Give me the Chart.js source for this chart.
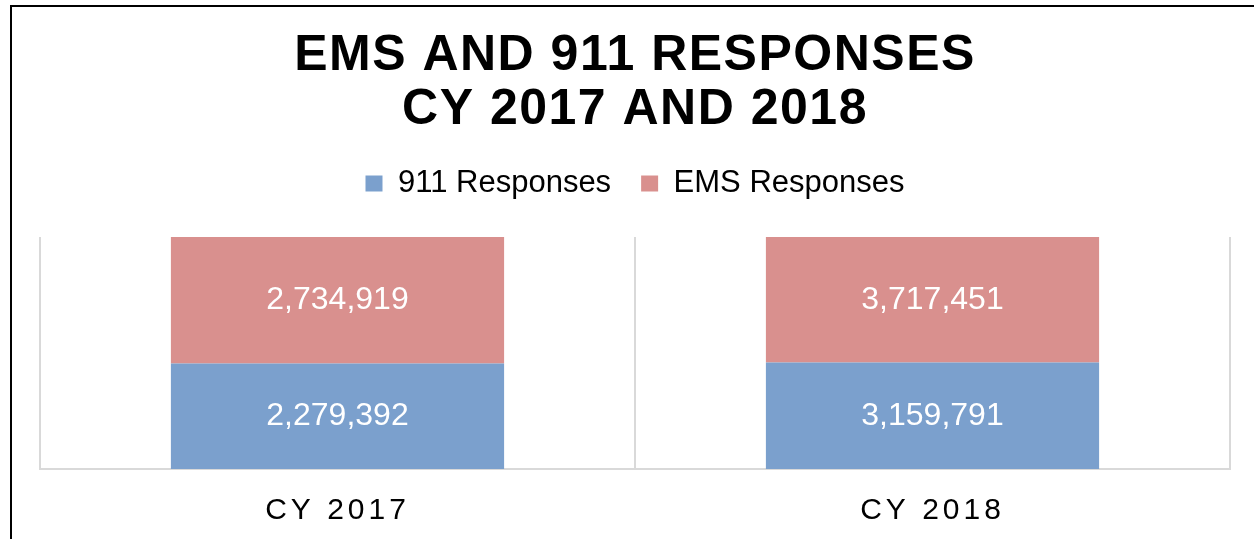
<!DOCTYPE html>
<html>
<head>
<meta charset="utf-8">
<title>EMS and 911 Responses</title>
<script src="https://cdn.jsdelivr.net/npm/chart.js@4.4.0/dist/chart.umd.min.js"></script>
<style>
    html, body { margin: 0; padding: 0; background: #fff; overflow: hidden; }
    #wrap { position: relative; width: 1254px; height: 539px; }
    #frame {
        position: absolute; left: 10px; top: 5px; width: 1400px; height: 700px;
        border-left: 2px solid #000; border-top: 2px solid #000;
        pointer-events: none;
    }
</style>
</head>
<body>
<div id="wrap">
    <canvas id="responsesChart"></canvas>
    <div id="frame"></div>
</div>
<script>
// Chart data
const years = ['CY 2017', 'CY 2018'];
const calls911 = [2279392, 3159791];
const callsEMS = [2734919, 3717451];

const FONT = "'Liberation Sans', Arial, sans-serif";

// 100% stacked: share of each year's total
function shareOf(values) {
    return values.map((v, i) => v / (calls911[i] + callsEMS[i]) * 100);
}

// Canvas letter spacing for a single draw call
function wrapSpacing(obj, fn, value) {
    if (!obj || obj['_spaced_' + fn]) return;
    const orig = obj[fn].bind(obj);
    obj[fn] = function(...args) {
        const ctx = this.ctx;
        ctx.save();
        ctx.letterSpacing = value;
        orig(...args);
        ctx.restore();
    };
    obj['_spaced_' + fn] = true;
}

const letterSpacing = {
    id: 'letterSpacing',
    beforeDraw(chart) {
        wrapSpacing(chart.titleBlock, 'draw', '1.5px');
        wrapSpacing(chart.scales.x, 'drawLabels', '4px');
    }
};

// White value labels in the middle of each segment
const segmentLabels = {
    id: 'segmentLabels',
    afterDatasetsDraw(chart) {
        const ctx = chart.ctx;
        const raw = [calls911, callsEMS];
        ctx.save();
        ctx.fillStyle = '#ffffff';
        ctx.font = '32px ' + FONT;
        ctx.textAlign = 'center';
        ctx.textBaseline = 'middle';
        chart.data.datasets.forEach((ds, di) => {
            chart.getDatasetMeta(di).data.forEach((bar, i) => {
                const c = bar.getCenterPoint();
                ctx.fillText(raw[di][i].toLocaleString('en-US'), c.x, c.y);
            });
        });
        ctx.restore();
    }
};

const ctx = document.getElementById('responsesChart').getContext('2d');
const responsesChart = new Chart(ctx, {
    type: 'bar',
    data: {
        labels: years,
        datasets: [{
            label: '911 Responses',
            data: shareOf(calls911),
            backgroundColor: '#7BA0CD',
            borderWidth: 0
        }, {
            label: 'EMS Responses',
            data: shareOf(callsEMS),
            backgroundColor: '#D9908E',
            borderWidth: 0
        }]
    },
    options: {
        responsive: true,
        maintainAspectRatio: false,
        animation: false,
        barPercentage: 0.56,
        categoryPercentage: 1.0,
        layout: {
            padding: { left: 40, right: 24, top: 0, bottom: 0 }
        },
        plugins: {
            title: {
                display: true,
                text: ['EMS AND 911 RESPONSES', 'CY 2017 AND 2018'],
                color: '#000',
                font: { family: FONT, size: 50, weight: 'bold', lineHeight: 1.08 },
                padding: { top: 29, bottom: 1 }
            },
            // empty spacer between legend and plot area
            subtitle: {
                display: true,
                text: '',
                position: 'top',
                weight: 500,
                font: { size: 28, lineHeight: 1 },
                padding: 0
            },
            legend: {
                position: 'top',
                labels: {
                    color: '#000',
                    font: { family: FONT, size: 31 },
                    boxWidth: 17,
                    boxHeight: 16,
                    padding: 30
                }
            },
            tooltip: { enabled: false }
        },
        scales: {
            x: {
                stacked: true,
                grid: {
                    display: true,
                    offset: true,
                    color: '#d9d9d9',
                    lineWidth: 2,
                    drawTicks: false
                },
                border: { display: true, color: '#d9d9d9', width: 2 },
                ticks: {
                    color: '#000',
                    font: { family: FONT, size: 30 },
                    padding: 24
                },
                afterFit(scale) {
                    scale.height = 70;
                }
            },
            y: {
                stacked: true,
                display: false,
                min: 0,
                max: 100
            }
        }
    },
    plugins: [letterSpacing, segmentLabels]
});
</script>
</body>
</html>
